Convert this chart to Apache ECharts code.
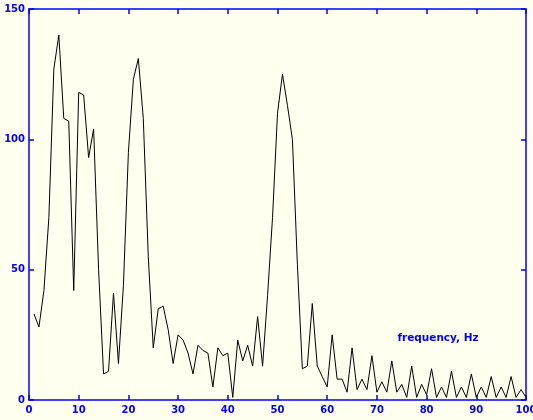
<!DOCTYPE html>
<html>
<head>
<meta charset="utf-8">
<script src="https://cdn.jsdelivr.net/npm/echarts@6/dist/echarts.min.js"></script>
<style>
html,body{margin:0;padding:0;background:#fffff0;}
#chart{width:533px;height:420px;}
</style>
</head>
<body>
<div id="chart"></div>
<script>
// frequency (Hz)
var freqs = [];
for (var i = 1; i <= 100; i++) freqs.push(i);
// spectrum magnitude, one per Hz (1..100)
var magnitude = [
  33, 28, 42, 70, 127, 140, 108, 107, 42, 118,
  117, 93, 104, 50, 10, 11, 41, 14, 44, 95,
  123, 131, 108, 55, 20, 35, 36, 27, 14, 25,
  23, 18, 10, 21, 19, 18, 5, 20, 17, 18,
  1, 23, 15, 21, 13, 32, 13, 40, 70, 110,
  125, 113, 100, 52, 12, 13, 37, 13, 9, 5,
  25, 8, 8, 3, 20, 4, 8, 4, 17, 3,
  7, 3, 15, 3, 6, 1, 13, 1, 6, 2,
  12, 1, 5, 1, 11, 1, 5, 1, 10, 1,
  5, 1, 9, 1, 5, 1, 9, 1, 4, 1
];
var xTicks = [0, 10, 20, 30, 40, 50, 60, 70, 80, 90, 100];
var yTicks = [0, 50, 100, 150];
var annotation = 'frequency, Hz';

var points = freqs.map(function (f, i) { return [f, magnitude[i]]; });

var blue = '#0000ff';
var font = { color: blue, fontFamily: 'DejaVu Sans', fontWeight: 'bold', fontSize: 10 };

function frameAxis(pos, isX, showLabel) {
  var ax = {
    type: 'value',
    min: isX ? xTicks[0] : yTicks[0],
    max: isX ? xTicks[xTicks.length - 1] : yTicks[yTicks.length - 1],
    interval: isX ? 10 : 50,
    position: pos,
    axisLine: { show: true, onZero: false, lineStyle: { color: blue, width: 1.5 } },
    axisTick: { show: true, inside: true, length: 5, lineStyle: { color: blue, width: 1.5 } },
    axisLabel: showLabel ? Object.assign({ margin: isX ? 5 : 4, hideOverlap: false }, font) : { show: false },
    splitLine: { show: false }
  };
  return ax;
}

var chart = echarts.init(document.getElementById('chart'), null, { renderer: 'canvas' });
chart.setOption({
  backgroundColor: '#fffff0',
  animation: false,
  grid: { left: 29, right: 7, top: 9, bottom: 20, containLabel: false, outerBoundsMode: 'none' },
  xAxis: [frameAxis('bottom', true, true), frameAxis('top', true, false)],
  yAxis: [frameAxis('left', false, true), frameAxis('right', false, false)],
  series: [{
    type: 'line',
    xAxisIndex: 0, yAxisIndex: 0,
    data: points,
    showSymbol: false,
    symbol: 'none',
    lineStyle: { color: '#000', width: 1 },
    markPoint: {
      symbol: 'rect', symbolSize: 1,
      itemStyle: { color: 'rgba(0,0,0,0)' },
      label: Object.assign({ show: true, formatter: annotation, position: 'inside' }, font, { fontSize: 10.5 }),
      data: [{ coord: [82.3, 23.6] }]
    }
  }]
});
</script>
</body>
</html>
